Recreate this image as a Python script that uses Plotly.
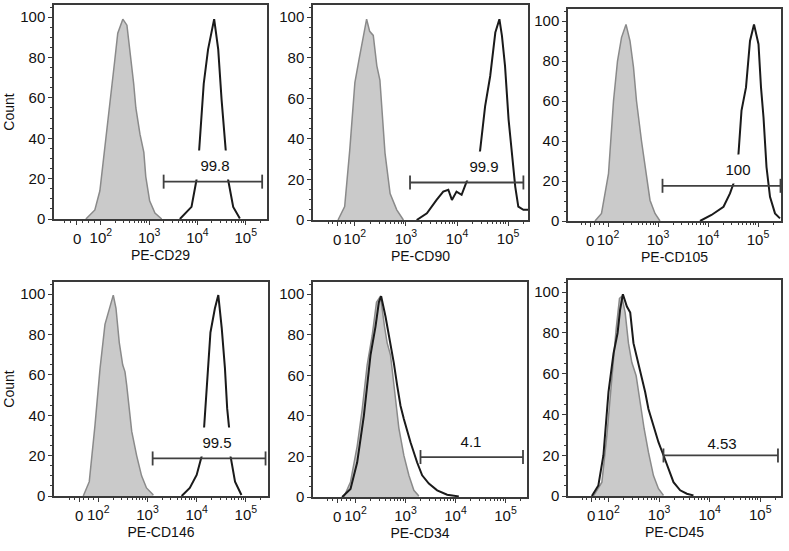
import math
import plotly.graph_objects as go

# ---------------- data (x in display decades: 2 -> 10^2, 5 -> 10^5) ----------------
markers = ["PE-CD29", "PE-CD90", "PE-CD105", "PE-CD146", "PE-CD34", "PE-CD45"]
gate_pct = ["99.8", "99.9", "100", "99.5", "4.1", "4.53"]
gate_start = [3.30, 3.08, 3.09, 3.105, 3.30, 3.087]
gate_end = [5.34, 5.30, 5.45, 5.40, 5.35, 5.35]
gate_level = [18.5, 18.5, 17.6, 18.6, 19.7, 19.9]

iso_x = [
    [1.69, 1.876, 1.98, 2.08, 2.19, 2.29, 2.35, 2.455, 2.54, 2.60, 2.68, 2.725, 2.81, 2.89, 2.93, 3.01, 3.12, 3.26],
    [1.67, 1.80, 1.90, 2.0, 2.08, 2.16, 2.23, 2.29, 2.36, 2.43, 2.49, 2.59, 2.69, 2.82, 2.95],
    [1.74, 1.87, 2.01, 2.11, 2.19, 2.27, 2.36, 2.44, 2.51, 2.57, 2.67, 2.76, 2.84, 2.94, 3.04],
    [1.695, 1.817, 1.933, 2.035, 2.136, 2.238, 2.305, 2.36, 2.427, 2.496, 2.543, 2.577, 2.68, 2.78, 2.88, 2.98, 3.12],
    [1.767, 1.90, 2.033, 2.133, 2.233, 2.333, 2.42, 2.50, 2.58, 2.633, 2.70, 2.78, 2.867, 2.967, 3.067, 3.167, 3.267],
    [1.703, 1.87, 1.968, 2.067, 2.152, 2.218, 2.264, 2.33, 2.395, 2.462, 2.547, 2.626, 2.705, 2.79, 2.889, 2.988, 3.087],
]
iso_y = [
    [0, 4.5, 14, 34, 59, 79, 92, 99, 96, 84, 67, 55, 42, 33, 21, 9, 3, 0],
    [0, 6.6, 34.6, 67.7, 79, 89, 99, 93, 91, 76, 69, 33, 13, 5, 0],
    [0, 3.8, 23.7, 60, 80, 91.7, 98.3, 90, 76.8, 60, 40, 23.7, 10.4, 3.8, 0],
    [0, 7.1, 35, 63, 85, 93, 99.5, 93, 76, 65, 61.5, 55, 32, 20, 10, 4, 0.5],
    [0, 7.4, 25, 43, 65, 79.5, 96, 99, 84, 76, 70, 52, 34, 20.5, 10.7, 3.3, 0.5],
    [0, 6.8, 29.6, 59, 82, 97, 98, 90, 75, 65.5, 59, 46, 33, 21.5, 10, 3.6, 0.3],
]
stain_x = [
    [3.636, 3.877, 3.98, 4.035, 4.13, 4.22, 4.346, 4.43, 4.50, 4.567, 4.588, 4.636, 4.74, 4.878],
    [3.21, 3.41, 3.60, 3.73, 3.83, 3.90, 3.99, 4.09, 4.19, 4.45, 4.55, 4.65, 4.75, 4.83, 4.88, 4.94, 5.01, 5.07, 5.14, 5.20, 5.30, 5.40],
    [3.84, 4.07, 4.31, 4.44, 4.51, 4.61, 4.67, 4.76, 4.84, 4.92, 5.01, 5.06, 5.11, 5.17, 5.24, 5.34, 5.44],
    [3.695, 3.86, 4.0, 4.10, 4.15, 4.20, 4.28, 4.37, 4.44, 4.51, 4.575, 4.62, 4.66, 4.69, 4.78, 4.91],
    [1.733, 1.90, 2.033, 2.167, 2.30, 2.40, 2.467, 2.513, 2.60, 2.70, 2.767, 2.833, 2.90, 2.967, 3.10, 3.233, 3.333, 3.467, 3.633, 3.833, 4.067],
    [1.672, 1.80, 1.90, 2.0, 2.10, 2.18, 2.23, 2.285, 2.364, 2.43, 2.494, 2.573, 2.66, 2.725, 2.79, 2.889, 2.988, 3.087, 3.186, 3.285, 3.417, 3.549, 3.68],
]
stain_y = [
    [0, 6, 19.3, 34, 67, 84, 99, 84, 59, 39, 34, 19.3, 6, 0.3],
    [0, 3.3, 9.9, 14, 14.9, 9.9, 14, 12.4, 19, 33.8, 56, 71, 92.4, 99, 90.8, 76, 49.5, 34.7, 16.5, 6.6, 5, 5],
    [0, 3, 7.1, 13.8, 18.7, 33.7, 55.2, 66.8, 90, 98.3, 88.4, 66.8, 51.9, 27, 12.1, 3.8, 1.3],
    [0, 4, 10.4, 19.5, 33.5, 51.8, 81, 92.9, 99.5, 83, 63.2, 43.4, 33.5, 19.5, 7.1, 0.5],
    [0, 4, 17, 40, 70, 84, 96, 99, 89, 76, 66, 55, 45, 38.5, 27, 17, 10.7, 6.6, 3.3, 1.1, 0.3],
    [0, 5.2, 20, 51, 70, 80, 91.5, 99, 93, 90, 75, 67, 59, 51, 42.7, 34.5, 26.4, 20, 13.4, 6.8, 2.8, 1.1, 0.3],
]
zero_tick_text = "0"
decade_tick_text = ["10<sup>2</sup>", "10<sup>3</sup>", "10<sup>4</sup>", "10<sup>5</sup>"]
decade_tick_vals = [2, 3, 4, 5]
y_tick_vals = [0, 20, 40, 60, 80, 100]

# ---------------- layout geometry (pixels) ----------------
W, H = 789, 551
panel_px = [  # left, right, top, bottom
    (54, 267, 5, 219), (313, 528, 5, 220), (568, 781, 9, 221),
    (54, 268, 282, 496), (313, 527, 282, 497), (568, 781, 280, 496),
]
x_ranges = [(1.03, 5.44), (1.18, 5.39), (1.20, 5.46), (1.10, 5.45), (1.15, 5.43), (1.20, 5.41)]
zero_pos = [1.50, 1.65, 1.64, 1.61, 1.63, 1.66]
label_x = [4.365, 4.52, 4.60, 4.41, 4.30, 4.24]
label_box_h = [28, 28, 28, 28, 26, 20]
Y_TOP = 106

FONT = "Liberation Sans, Arial, Helvetica, sans-serif"
FRAME = "#3a3a3a"
ISO_FILL = "#cacaca"
ISO_LINE = "#8a8a8a"
STAIN = "#1a1a1a"
GATE = "#404040"
TXT = "#111111"
TICK_SIZE = 15
TITLE_SIZE = 14

fig = go.Figure()
layout = dict(
    template="none",
    width=W, height=H, margin=dict(l=0, r=0, t=0, b=0, autoexpand=False),
    paper_bgcolor="white", plot_bgcolor="white",
    showlegend=False, font=dict(family=FONT, size=14, color=TXT),
    annotations=[],
)

for i in range(6):
    n = "" if i == 0 else str(i + 1)
    xa, ya = "x" + n, "y" + n
    l, r, t, b = panel_px[i]

    minor_x = []
    for dec in (2, 3, 4):
        for k in range(2, 10):
            minor_x.append(dec + math.log10(k))
    minor_x.append(5 + math.log10(2))
    z = zero_pos[i]
    step = (2 - z) / 4
    minor_x += [z + step * j for j in range(1, 4)]
    minor_x += [z - step * j for j in range(1, 3)]

    layout["xaxis" + n] = dict(
        domain=[l / W, r / W], anchor=ya, range=list(x_ranges[i]), automargin=False,
        tickmode="array", tickvals=[z] + decade_tick_vals, ticktext=[""] + decade_tick_text,
        tickangle=0,
        ticks="outside", ticklen=4, tickwidth=1.2, tickcolor=FRAME,
        minor=dict(tickmode="array", tickvals=minor_x, ticks="outside", ticklen=2,
                   tickwidth=1, tickcolor=FRAME, showgrid=False),
        showline=True, linecolor=FRAME, linewidth=1.5, mirror=True,
        showgrid=False, zeroline=False,
        tickfont=dict(family=FONT, size=TICK_SIZE, color=TXT),
        title=dict(text=markers[i], standoff=5, font=dict(family=FONT, size=TITLE_SIZE, color=TXT)),
    )
    ycfg = dict(
        domain=[1 - b / H, 1 - t / H], anchor=xa, range=[0, Y_TOP], automargin=False,
        tickmode="array", tickvals=y_tick_vals, tickangle=0,
        ticks="outside", ticklen=4, tickwidth=1.2, tickcolor=FRAME,
        minor=dict(dtick=5, ticks="outside", ticklen=2, tickwidth=1, tickcolor=FRAME, showgrid=False),
        showline=True, linecolor=FRAME, linewidth=1.5, mirror=True,
        showgrid=False, zeroline=False,
        tickfont=dict(family=FONT, size=TICK_SIZE, color=TXT),
    )
    if i in (0, 3):
        ycfg["title"] = dict(text="Count", standoff=2, font=dict(family=FONT, size=TITLE_SIZE, color=TXT))
    layout["yaxis" + n] = ycfg

    fig.add_trace(go.Scatter(
        x=iso_x[i], y=iso_y[i], xaxis=xa, yaxis=ya, mode="lines",
        fill="tozeroy", fillcolor=ISO_FILL, line=dict(color=ISO_LINE, width=1.5),
        hoverinfo="skip",
    ))
    fig.add_trace(go.Scatter(
        x=stain_x[i], y=stain_y[i], xaxis=xa, yaxis=ya, mode="lines",
        line=dict(color=STAIN, width=2), hoverinfo="skip",
    ))
    fig.add_trace(go.Scatter(
        x=[gate_start[i], gate_end[i]], y=[gate_level[i], gate_level[i]],
        xaxis=xa, yaxis=ya, mode="lines+markers", cliponaxis=False,
        line=dict(color=GATE, width=1.8),
        marker=dict(symbol="line-ns", size=10, line=dict(color=GATE, width=1.8)),
        hoverinfo="skip",
    ))
    layout["annotations"].append(dict(
        x=label_x[i], y=gate_level[i] + 0.9, xref=xa, yref=ya, yanchor="bottom",
        text=gate_pct[i], showarrow=False,
        bgcolor="white", width=44, height=label_box_h[i], borderpad=0, valign="middle",
        font=dict(family=FONT, size=TICK_SIZE, color=TXT),
    ))
    # "0" label of the biexponential axis (drawn as an annotation so it is never auto-hidden)
    layout["annotations"].append(dict(
        x=z, y=0, xref=xa, yref=ya + " domain", xanchor="center", yanchor="top",
        yshift=-10, text=zero_tick_text, showarrow=False, borderpad=0,
        font=dict(family=FONT, size=TICK_SIZE, color=TXT),
    ))

fig.update_layout(**layout)
fig.write_html(
    "out.html",
    config={"displayModeBar": False},
    post_script="document.body.style.margin='0';document.body.style.padding='0';",
)
